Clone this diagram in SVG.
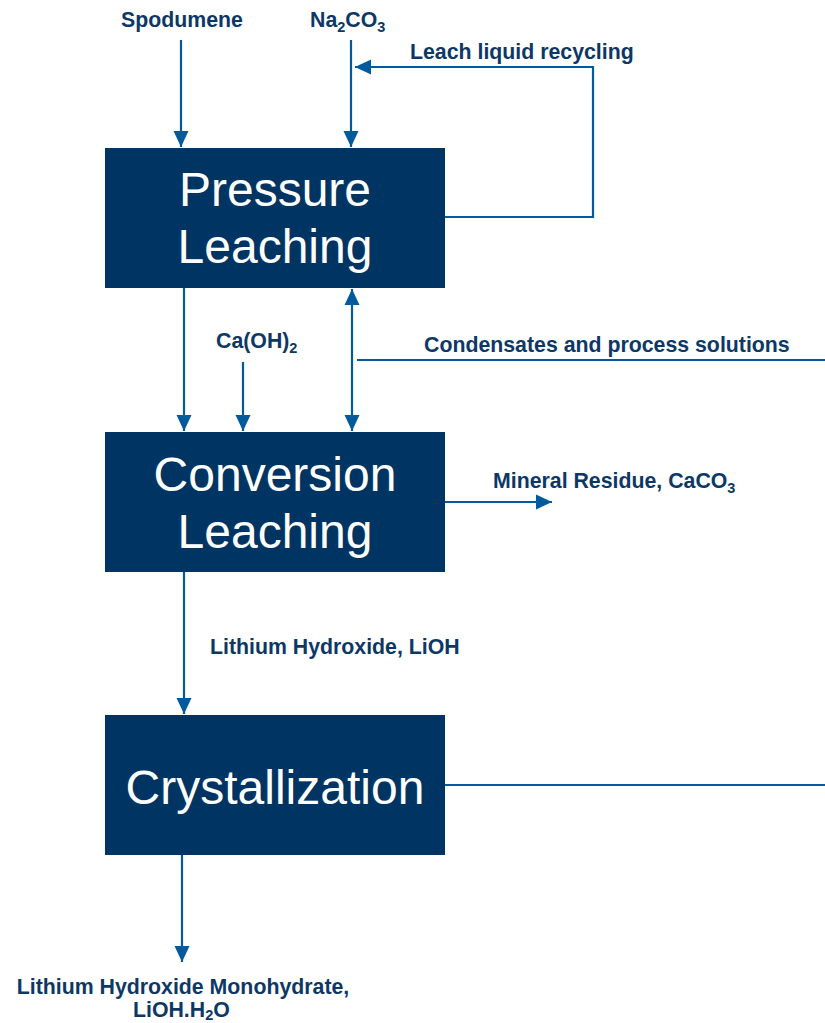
<svg xmlns="http://www.w3.org/2000/svg" width="825" height="1023" viewBox="0 0 825 1023">
<style>
.box{fill:#003462}
.bt{font-family:"Liberation Sans",Arial,sans-serif;font-size:48px;fill:#ffffff;text-anchor:middle}
.lb{font-family:"Liberation Sans",Arial,sans-serif;font-size:21.3px;font-weight:bold;fill:#0d3866}
.sub{font-size:14.5px}
.c{stroke:#005a9c;stroke-width:2.2;fill:none}
</style>
<defs>
<marker id="ah" markerUnits="userSpaceOnUse" markerWidth="18" markerHeight="18" viewBox="0 0 18 18" refX="16" refY="9" orient="auto-start-reverse">
<path d="M0,1.5 L16,9 L0,16.5 Z" fill="#005a9c"/>
</marker>
</defs>
<rect width="825" height="1023" fill="#ffffff"/>
<g id="connectors">
<line class="c" x1="181" y1="40" x2="181" y2="147" marker-end="url(#ah)"/>
<line class="c" x1="351" y1="40" x2="351" y2="147" marker-end="url(#ah)"/>
<polyline class="c" points="445,217 593,217 593,67 355,67" marker-end="url(#ah)"/>
<line class="c" x1="184" y1="288" x2="184" y2="431" marker-end="url(#ah)"/>
<line class="c" x1="243" y1="362" x2="243" y2="431" marker-end="url(#ah)"/>
<line class="c" x1="352" y1="289" x2="352" y2="431" marker-start="url(#ah)" marker-end="url(#ah)"/>
<line class="c" x1="357" y1="360" x2="825" y2="360"/>
<line class="c" x1="445" y1="502" x2="552" y2="502" marker-end="url(#ah)"/>
<line class="c" x1="184" y1="572" x2="184" y2="714" marker-end="url(#ah)"/>
<line class="c" x1="445" y1="785" x2="825" y2="785"/>
<line class="c" x1="182" y1="855" x2="182" y2="962" marker-end="url(#ah)"/>
</g>
<g id="pressure-leaching">
<rect class="box" x="105" y="148" width="340" height="140"/>
<text class="bt" x="275" y="206">Pressure</text>
<text class="bt" x="275" y="263">Leaching</text>
</g>
<g id="conversion-leaching">
<rect class="box" x="105" y="432" width="340" height="140"/>
<text class="bt" x="275" y="491">Conversion</text>
<text class="bt" x="275" y="548">Leaching</text>
</g>
<g id="crystallization">
<rect class="box" x="105" y="715" width="340" height="140"/>
<text class="bt" x="275" y="804">Crystallization</text>
</g>
<g id="labels">
<text class="lb" x="182" y="27" text-anchor="middle">Spodumene</text>
<text class="lb" x="310" y="27">Na<tspan class="sub" dy="5">2</tspan><tspan dy="-5">CO</tspan><tspan class="sub" dy="5">3</tspan></text>
<text class="lb" x="410" y="59">Leach liquid recycling</text>
<text class="lb" x="216" y="348">Ca(OH)<tspan class="sub" dy="5">2</tspan></text>
<text class="lb" x="424" y="352">Condensates and process solutions</text>
<text class="lb" x="493" y="488">Mineral Residue, CaCO<tspan class="sub" dy="5">3</tspan></text>
<text class="lb" x="210" y="654">Lithium Hydroxide, LiOH</text>
<text class="lb" x="183" y="994" text-anchor="middle">Lithium Hydroxide Monohydrate,</text>
<text class="lb" x="133" y="1017">LiOH.H<tspan class="sub" dy="3">2</tspan><tspan dy="-3">O</tspan></text>
</g>
</svg>
